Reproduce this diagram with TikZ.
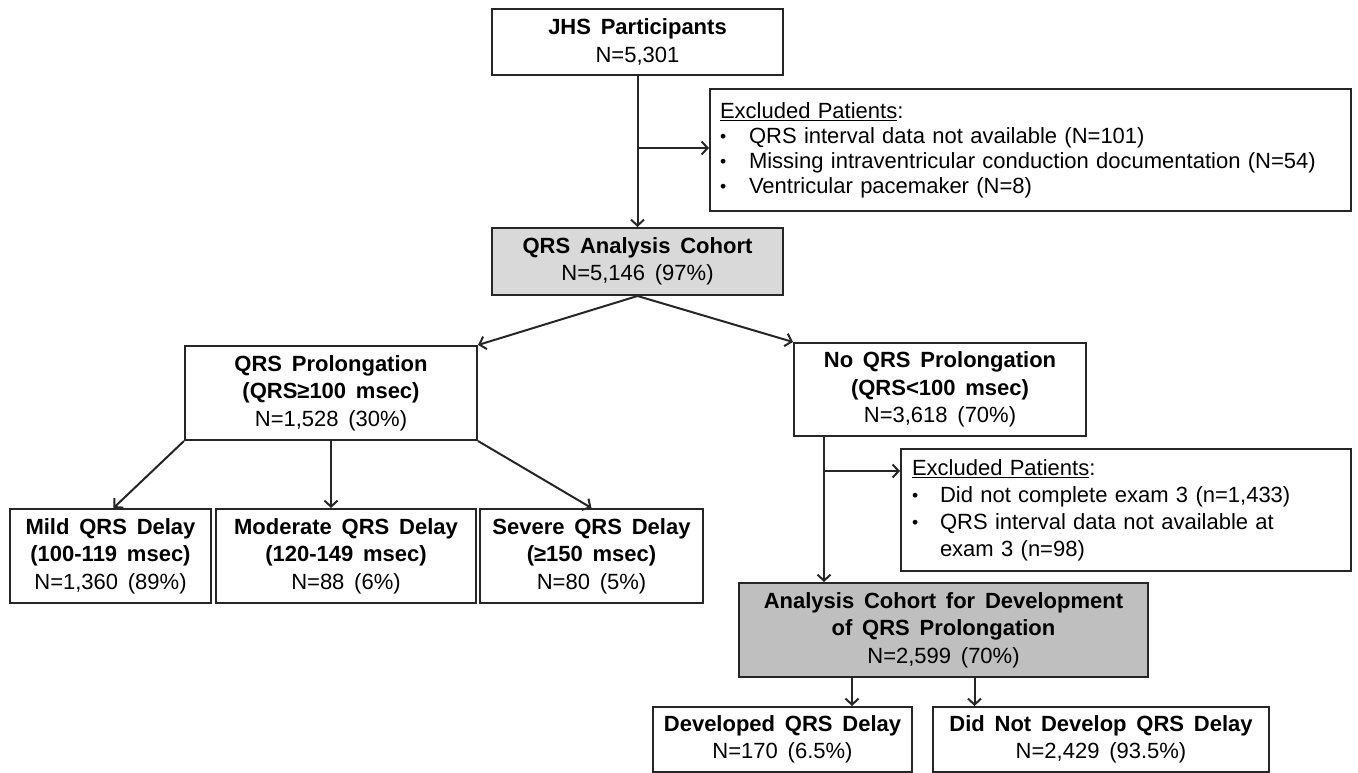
\documentclass[tikz,border=0pt]{standalone}
\usepackage{fontspec}
\setmainfont[WordSpace=1.6]{Liberation Sans}
\usetikzlibrary{arrows.meta,calc}
\definecolor{lightbox}{HTML}{D9D9D9}
\definecolor{darkbox}{HTML}{BFBFBF}
\definecolor{edge}{HTML}{262626}
\newcommand{\bul}[1]{\makebox[#1][l]{\raisebox{1pt}{\scalebox{0.8}{•}}}}
\begin{document}
\begin{tikzpicture}[x=1pt,y=-1pt,
  box/.style={draw=edge, line width=2pt, inner sep=0pt, align=center,
    font=\fontsize{22}{27.5}\selectfont},
  listbox/.style={draw=edge, line width=2pt, inner xsep=10pt, inner ysep=0pt, align=left},
  arr/.style={draw=edge, line width=2pt, -{Straight Barb[length=6pt,width=13pt]}}]
\path[use as bounding box] (0,0) rectangle (1358,773);

\node[box, minimum width=291pt, minimum height=66pt] (jhs) at (637.5,42)
  {\textbf{JHS Participants}\\N=5,301};

\node[listbox, text width=621pt, minimum height=122pt,
      font=\fontsize{22}{25}\selectfont] (excl1) at (1030.5,150)
  {\underline{Excluded Patients}:\\
   \bul{29pt}QRS interval data not available (N=101)\\
   \bul{29pt}Missing intraventricular conduction documentation (N=54)\\
   \bul{29pt}Ventricular pacemaker (N=8)};

\node[box, fill=lightbox, minimum width=291pt, minimum height=67pt] (qrsa) at (637.5,261.5)
  {\textbf{QRS Analysis Cohort}\\N=5,146 (97\%)};

\node[box, minimum width=292pt, minimum height=94pt] (qrsp) at (331,393)
  {\textbf{QRS Prolongation}\\\textbf{(QRS≥100 msec)}\\N=1,528 (30\%)};

\node[box, minimum width=292pt, minimum height=93pt] (noqrs) at (940,389.5)
  {\textbf{No QRS Prolongation}\\\textbf{(QRS<100 msec)}\\N=3,618 (70\%)};

\node[box, minimum width=201pt, minimum height=94pt] (mild) at (110.5,556)
  {\textbf{Mild QRS Delay}\\\textbf{(100-119 msec)}\\N=1,360 (89\%)};
\node[box, minimum width=260pt, minimum height=94pt] (mod) at (346,556)
  {\textbf{Moderate QRS Delay}\\\textbf{(120-149 msec)}\\N=88 (6\%)};
\node[box, minimum width=223pt, minimum height=94pt] (sev) at (591.5,556)
  {\textbf{Severe QRS Delay}\\\textbf{(≥150 msec)}\\N=80 (5\%)};

\node[listbox, inner xsep=11pt, text width=428pt, minimum height=122pt,
      font=\fontsize{22}{27}\selectfont] (excl2) at (1126,510)
  {\underline{Excluded Patients}:\\
   \bul{28pt}Did not complete exam 3 (n=1,433)\\
   \bul{28pt}QRS interval data not available at\\
   \hspace*{28pt}exam 3 (n=98)};

\node[box, fill=darkbox, minimum width=409pt, minimum height=94pt] (acd) at (943.5,630)
  {\textbf{Analysis Cohort for Development}\\\textbf{of QRS Prolongation}\\N=2,599 (70\%)};

\node[box, minimum width=259pt, minimum height=65pt] (dev) at (782.5,739.5)
  {\textbf{Developed QRS Delay}\\N=170 (6.5\%)};
\node[box, minimum width=336pt, minimum height=65pt] (dnd) at (1101,739.5)
  {\textbf{Did Not Develop QRS Delay}\\N=2,429 (93.5\%)};

% connectors
\draw[arr] (jhs) -- (qrsa);
\coordinate (b1) at ([yshift=2pt]jhs.south |- excl1.west);
\draw[arr] (b1) -- (excl1.west |- b1);
\draw[arr] (qrsa.south) -- (qrsp.north east);
\draw[arr] (qrsa.south) -- (noqrs.north west);
\draw[arr] (qrsp.south west) -- ([xshift=3pt]mild.north);
\draw[arr] (qrsp.south) -- (qrsp.south |- mod.north);
\draw[arr] (qrsp.south east) -- (sev.north);
\coordinate (n1) at ([xshift=31pt]noqrs.south west);
\coordinate (e2) at ([yshift=-23pt]excl2.north west);
\draw[arr] (n1) -- (n1 |- acd.north);
\draw[arr] (n1 |- e2) -- (e2);
\coordinate (a1) at ([xshift=-91.5pt]acd.south);
\coordinate (a2) at ([xshift=31pt]acd.south);
\draw[arr] (a1) -- (a1 |- dev.north);
\draw[arr] (a2) -- (a2 |- dnd.north);
\end{tikzpicture}
\end{document}
